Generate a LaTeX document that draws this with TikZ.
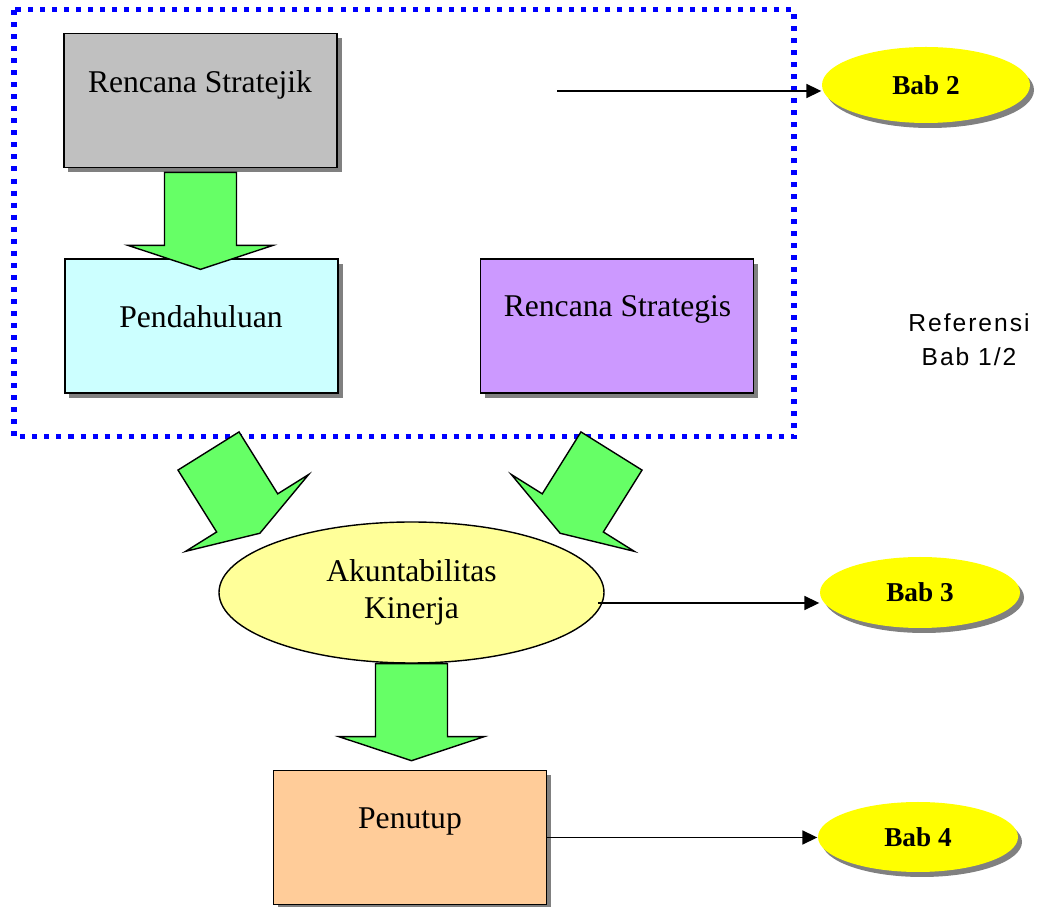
\documentclass[tikz,border=0pt]{standalone}
\usepackage{fontspec}
\setmainfont{Liberation Serif}
\newfontfamily\reffont[LetterSpace=8]{Liberation Sans}
\usepackage{tikz}
\usetikzlibrary{arrows.meta}
\usetikzlibrary{shapes.geometric, shadows}
\definecolor{boxgray}{HTML}{C0C0C0}
\definecolor{boxcyan}{HTML}{CCFFFF}
\definecolor{boxpurple}{HTML}{CC99FF}
\definecolor{boxpeach}{HTML}{FFCC99}
\definecolor{lightyellow}{HTML}{FFFF99}
\definecolor{babyellow}{HTML}{FFFF00}
\definecolor{arrowgreen}{HTML}{66FF66}
\definecolor{shadowgray}{HTML}{808080}

\begin{document}
\begin{tikzpicture}[line width=0.8pt,
    box/.style={draw, line width=1pt, minimum width=5.46cm, minimum height=2.68cm, inner sep=0pt,
        drop shadow={shadow xshift=0.09cm, shadow yshift=-0.1cm, fill=shadowgray, opacity=1}},
    boxtext/.style={font=\fontsize{18}{21}\selectfont, anchor=base, inner sep=0pt},
    bab/.style={ellipse, fill=babyellow, minimum width=4cm, minimum height=1.42cm, inner sep=0pt,
        font=\fontsize{15.5}{18}\selectfont\bfseries,
        drop shadow={shadow xshift=0.08cm, shadow yshift=-0.1cm, fill=shadowgray, opacity=1}},
    link/.style={-{Triangle[length=8.5pt,width=8pt]}, line width=0.8pt},
    bigarrow/.pic={
        \draw[fill=arrowgreen, line width=0.8pt, line join=miter]
            (-0.72,0) -- (0.72,0) -- (0.72,-1.46) -- (1.45,-1.46) -- (0,-1.94)
            -- (-1.45,-1.46) -- (-0.72,-1.46) -- cycle;
    }]
    \useasboundingbox (0,0) rectangle (20.74,-18.14);

    % dotted frame round the first part
    \draw[blue, line width=2.85pt, dash pattern=on 2.85pt off 4pt] (0.28,-0.2) rectangle (15.88,-8.74);

    \node[box, fill=boxgray] (renstra) at (4.01,-2.01) {};
    \node[boxtext] (renstratxt) at (4.0,-1.86) {Rencana Stratejik};
    \node[box, fill=boxcyan] (pend) at (4.03,-6.52) {};
    \node[boxtext] (pendtxt) at (4.02,-6.56) {Pendahuluan};
    \node[box, fill=boxpurple] (strat) at (12.34,-6.52) {};
    \node[boxtext] (strattxt) at (12.35,-6.34) {Rencana Strategis};

    \node[ellipse, draw, fill=lightyellow, minimum width=7.7cm, minimum height=2.82cm,
        inner sep=0pt, align=center, font=\fontsize{18}{21}\selectfont] (akun) at (8.23,-11.85)
        {Akuntabilitas\\Kinerja};

    \node[box, fill=boxpeach] (tutup) at (8.2,-16.75) {};
    \node[boxtext] (tutuptxt) at (8.2,-16.58) {Penutup};

    \node[align=center, font=\reffont\fontsize{14}{19.4}\selectfont] (ref) at (19.38,-6.8) {Referensi\\Bab 1/2};

    \node[bab, minimum width=4.16cm, minimum height=1.52cm] (bab2) at (18.52,-1.7) {Bab 2};
    \node[bab] (bab3) at (18.4,-11.85) {Bab 3};
    \node[bab, minimum height=1.4cm] (bab4) at (18.36,-16.74) {Bab 4};

    % big green arrows
    \pic at ([yshift=-0.08cm]renstra.south) {bigarrow};
    \pic[rotate=32] at (4.17,-9.02) {bigarrow};
    \pic[rotate=-32] at (12.23,-9.02) {bigarrow};
    \pic at (akun.south) {bigarrow};

    % links to the chapters
    \coordinate (src2) at (11.14,-1.82);
    \draw[link] (src2) -- (src2 -| bab2.west);
    \coordinate (src3) at (11.96,-12.06);
    \draw[link] (src3) -- (src3 -| bab3.west);
    \draw[link] (tutup.east) -- (tutup.east -| bab4.west);
\end{tikzpicture}
\end{document}
